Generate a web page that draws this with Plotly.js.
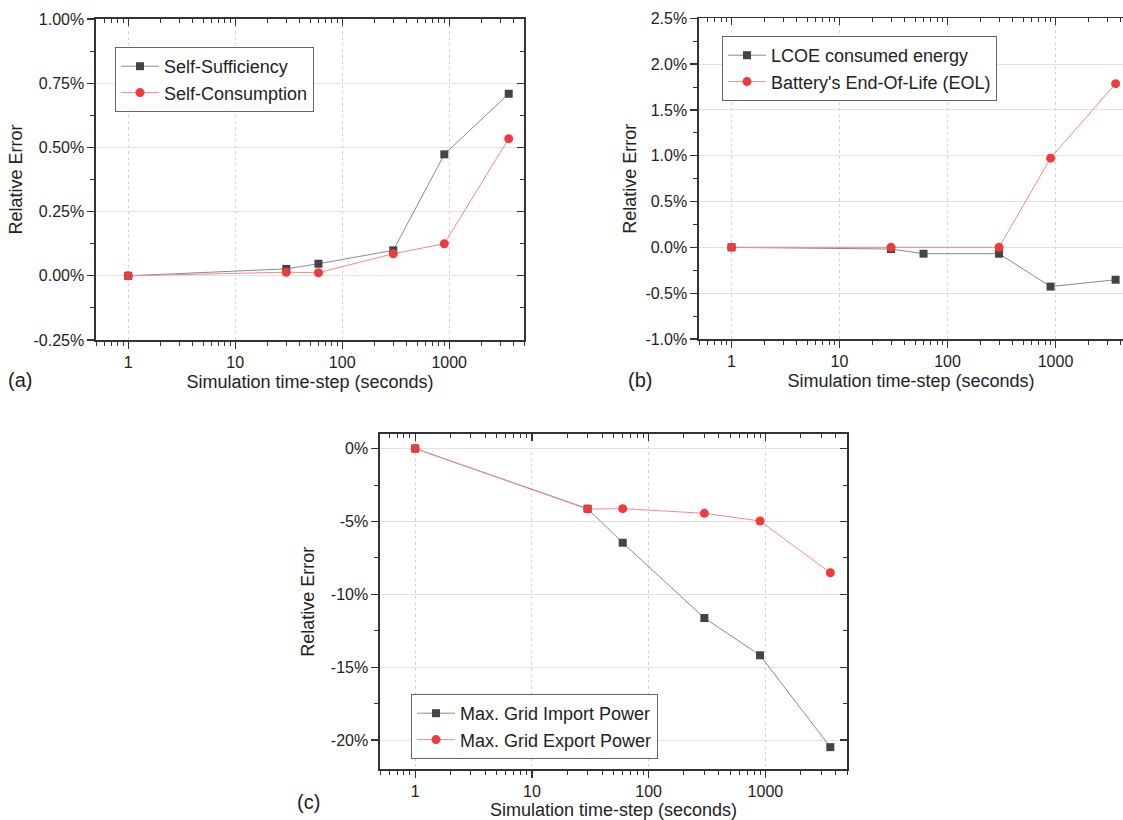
<!DOCTYPE html>
<html>
<head>
<meta charset="utf-8">
<script src="https://cdn.plot.ly/plotly-3.0.1.min.js"></script>
<style>
  html, body { margin: 0; padding: 0; background: #ffffff; }
  #chart { width: 1123px; height: 820px; }
</style>
</head>
<body>
<div id="chart"></div>
<script>
// ---------------- data ----------------
const timeSteps = [1, 30, 60, 300, 900, 3600];
const eolTimeSteps = [1, 30, 300, 900, 3600];

// panel (a) — relative error in %
const selfSufficiency = [0, 0.027, 0.047, 0.099, 0.473, 0.709];
const selfConsumption = [0, 0.014, 0.012, 0.086, 0.125, 0.534];

// panel (b)
const lcoeConsumedEnergy = [0, -0.018, -0.069, -0.069, -0.428, -0.353];
const batteryEOL = [0, 0.0, 0.0, 0.974, 1.787];

// panel (c)
const maxGridImport = [0, -4.12, -6.46, -11.62, -14.18, -20.48];
const maxGridExport = [0, -4.15, -4.12, -4.44, -4.97, -8.52];

// tick labels
const xTickVals = [1, 10, 100, 1000];
const xTickText = ['1', '10', '100', '1000'];
const aTickVals = [-0.25, 0, 0.25, 0.5, 0.75, 1.0];
const aTickText = ['-0.25%', '0.00%', '0.25%', '0.50%', '0.75%', '1.00%'];
const bTickVals = [-1, -0.5, 0, 0.5, 1, 1.5, 2, 2.5];
const bTickText = ['-1.0%', '-0.5%', '0.0%', '0.5%', '1.0%', '1.5%', '2.0%', '2.5%'];
const cTickVals = [-20, -15, -10, -5, 0];
const cTickText = ['-20%', '-15%', '-10%', '-5%', '0%'];

// ---------------- style ----------------
const FONT = 'Liberation Sans, Arial, sans-serif';
const TXT = '#222222';
const AXC = '#333333';
const TICKSZ = 16, TITLESZ = 18, LEGSZ = 18;
const darkLine = { color: '#8a8a8a', width: 1 };
const darkMarker = { color: '#444444', symbol: 'square', size: 8 };
const redLine = { color: '#f58a8a', width: 1 };
const redMarker = { color: '#ef3b3b', symbol: 'circle', size: 9 };

function tr(x, y, name, line, marker, xa, ya, lg) {
  return { x: x, y: y, name: name, type: 'scatter', mode: 'lines+markers',
           line: line, marker: marker, xaxis: xa, yaxis: ya, legend: lg };
}

const data = [
  tr(timeSteps, selfSufficiency, 'Self-Sufficiency', darkLine, darkMarker, 'x', 'y', 'legend'),
  tr(timeSteps, selfConsumption, 'Self-Consumption', redLine, redMarker, 'x', 'y', 'legend'),
  tr(timeSteps, lcoeConsumedEnergy, 'LCOE consumed energy', darkLine, darkMarker, 'x2', 'y2', 'legend2'),
  tr(eolTimeSteps, batteryEOL, "Battery's End-Of-Life (EOL)", redLine, redMarker, 'x2', 'y2', 'legend2'),
  tr(timeSteps, maxGridImport, 'Max. Grid Import Power', darkLine, darkMarker, 'x3', 'y3', 'legend3'),
  tr(timeSteps, maxGridExport, 'Max. Grid Export Power', redLine, redMarker, 'x3', 'y3', 'legend3'),
  // dummy traces to activate mirror axes (top / right, inward ticks)
  { x: [], y: [], xaxis: 'x4', yaxis: 'y4', showlegend: false, hoverinfo: 'skip' },
  { x: [], y: [], xaxis: 'x5', yaxis: 'y2', showlegend: false, hoverinfo: 'skip' },
  { x: [], y: [], xaxis: 'x6', yaxis: 'y6', showlegend: false, hoverinfo: 'skip' }
];

const L05 = Math.log10(0.5), L5000 = Math.log10(5000);

function xAxis(domain, range, anchor, standoff) {
  return {
    type: 'log', domain: domain, range: range, anchor: anchor,
    tickmode: 'array', tickvals: xTickVals, ticktext: xTickText,
    ticks: 'outside', ticklen: 7, tickwidth: 1.3, tickcolor: AXC,
    minor: { dtick: 'D1', ticks: 'outside', ticklen: 4, tickwidth: 1, tickcolor: AXC, showgrid: false },
    showline: true, linecolor: AXC, linewidth: 1.6, mirror: false,
    showgrid: true, gridcolor: '#d4d4d4', griddash: 'dot', gridwidth: 1,
    zeroline: false, automargin: false,
    tickfont: { family: FONT, size: TICKSZ, color: TXT },
    title: { text: 'Simulation time-step (seconds)', standoff: standoff,
             font: { family: FONT, size: TITLESZ, color: TXT } }
  };
}
function yAxis(domain, range, anchor, vals, text, minorDt, standoff) {
  return {
    domain: domain, range: range, anchor: anchor,
    tickmode: 'array', tickvals: vals, ticktext: text,
    ticks: 'outside', ticklen: 7, tickwidth: 1.3, tickcolor: AXC,
    minor: { tickmode: 'linear', tick0: 0, dtick: minorDt, ticks: 'outside', ticklen: 4, tickwidth: 1, tickcolor: AXC, showgrid: false },
    showline: true, linecolor: AXC, linewidth: 1.6, mirror: false,
    showgrid: true, gridcolor: '#e2e2e2', gridwidth: 1,
    zeroline: false, automargin: false,
    tickfont: { family: FONT, size: TICKSZ, color: TXT },
    title: { text: 'Relative Error', standoff: standoff,
             font: { family: FONT, size: TITLESZ, color: TXT } }
  };
}
function xTop(over, range, anchor) {
  return {
    type: 'log', overlaying: over, side: 'top', anchor: anchor, range: range,
    tickmode: 'array', tickvals: xTickVals, showticklabels: false,
    ticks: 'inside', ticklen: 7, tickwidth: 1.3, tickcolor: AXC,
    minor: { dtick: 'D1', ticks: 'inside', ticklen: 4, tickwidth: 1, tickcolor: AXC, showgrid: false },
    showline: true, linecolor: AXC, linewidth: 1.6, showgrid: false, zeroline: false
  };
}
function yRight(over, range, anchor, vals, minorDt) {
  return {
    overlaying: over, side: 'right', anchor: anchor, range: range,
    tickmode: 'array', tickvals: vals, showticklabels: false,
    ticks: 'inside', ticklen: 7, tickwidth: 1.3, tickcolor: AXC,
    minor: { tickmode: 'linear', tick0: 0, dtick: minorDt, ticks: 'inside', ticklen: 4, tickwidth: 1, tickcolor: AXC, showgrid: false },
    showline: true, linecolor: AXC, linewidth: 1.6, showgrid: false, zeroline: false
  };
}

const W = 1123, H = 820;
const px = v => v / W, py = v => 1 - v / H;

const aX = [px(96), px(524)], aY = [py(340), py(19)];
const bX = [px(699), 1], bY = [py(339), py(18.3)];
const cX = [px(380), px(847)], cY = [py(769.3), py(434)];
const bRight = L05 + (1123 - 699) / 108;

function legendBox(x, y) {
  return {
    x: x, y: y, xanchor: 'left', yanchor: 'top', xref: 'paper', yref: 'paper',
    bgcolor: '#ffffff', bordercolor: '#666666', borderwidth: 1,
    font: { family: FONT, size: LEGSZ, color: TXT }, itemwidth: 38,
    tracegroupgap: 0
  };
}

const layout = {
  width: W, height: H,
  margin: { l: 0, r: 0, t: 0, b: 0 },
  paper_bgcolor: '#ffffff', plot_bgcolor: '#ffffff',
  showlegend: true,
  font: { family: FONT, color: TXT },
  xaxis: xAxis(aX, [L05, L5000], 'y', 5),
  yaxis: yAxis(aY, [-0.25, 1.0], 'x', aTickVals, aTickText, 0.125, 6),
  xaxis2: xAxis(bX, [L05, bRight], 'y2', 5),
  yaxis2: yAxis(bY, [-1, 2.5], 'x2', bTickVals, bTickText, 0.25, 4),
  xaxis3: xAxis(cX, [L05, L5000], 'y3', 4),
  yaxis3: yAxis(cY, [-22, 1], 'x3', cTickVals, cTickText, 2.5, 11),
  xaxis4: xTop('x', [L05, L5000], 'y'),
  yaxis4: yRight('y', [-0.25, 1.0], 'x', aTickVals, 0.125),
  xaxis5: xTop('x2', [L05, bRight], 'y2'),
  xaxis6: xTop('x3', [L05, L5000], 'y3'),
  yaxis6: yRight('y3', [-22, 1], 'x3', cTickVals, 2.5),
  legend: legendBox(px(115), py(47)),
  legend2: legendBox(px(722), py(36)),
  legend3: legendBox(px(411), py(694)),
  annotations: [
    { text: '(a)', x: px(20), y: py(380), xref: 'paper', yref: 'paper', showarrow: false,
      xanchor: 'center', yanchor: 'middle', font: { family: FONT, size: 20, color: TXT } },
    { text: '(b)', x: px(640), y: py(380), xref: 'paper', yref: 'paper', showarrow: false,
      xanchor: 'center', yanchor: 'middle', font: { family: FONT, size: 20, color: TXT } },
    { text: '(c)', x: px(308), y: py(802), xref: 'paper', yref: 'paper', showarrow: false,
      xanchor: 'center', yanchor: 'middle', font: { family: FONT, size: 20, color: TXT } }
  ]
};

Plotly.newPlot('chart', data, layout, { staticPlot: true, displayModeBar: false });
</script>
</body>
</html>
